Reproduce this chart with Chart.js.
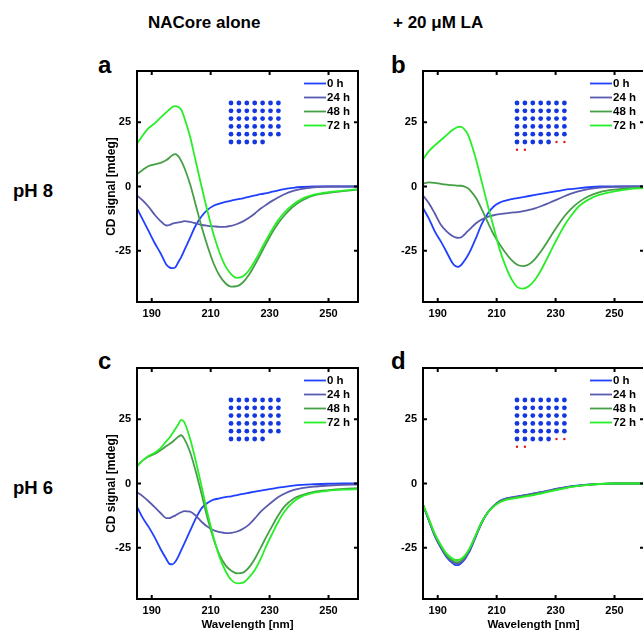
<!DOCTYPE html>
<html>
<head>
<meta charset="utf-8">
<script src="https://cdn.jsdelivr.net/npm/chart.js@4.4.0/dist/chart.umd.min.js"></script>
<style>
body{margin:0;width:643px;height:632px;overflow:hidden;background:#fff;position:relative;font-family:"Liberation Sans",Arial,sans-serif}
.t{position:absolute;white-space:nowrap;font-weight:bold;color:#000;line-height:1}
canvas{position:absolute}
</style>
</head>
<body>
<div class="t" style="left:148px;top:14px;font-size:17px">NACore alone</div>
<div class="t" style="left:393px;top:14px;font-size:17px">+ 20 μM LA</div>
<div class="t" style="left:13px;top:182px;font-size:18.5px">pH 8</div>
<div class="t" style="left:13px;top:479px;font-size:18.5px">pH 6</div>
<div class="t" style="left:98px;top:53px;font-size:24px">a</div>
<div class="t" style="left:391px;top:53px;font-size:24px">b</div>
<div class="t" style="left:98px;top:349px;font-size:24px">c</div>
<div class="t" style="left:391px;top:349px;font-size:24px">d</div>

<canvas id="ca" width="330" height="275" style="left:40px;top:55px"></canvas>
<canvas id="cb" width="330" height="275" style="left:326px;top:55px"></canvas>
<canvas id="cc" width="330" height="280" style="left:40px;top:352px"></canvas>
<canvas id="cd" width="330" height="280" style="left:326px;top:352px"></canvas>

<script>
// wavelengths in nm
var wavelength = [185,187,189,191,193,195,196,197,198,199,200,201,203,205,207,209,211,213,215,217,219,221,223,225,227,229,231,233,235,238,241,245,250,255,260]
var xTicks = [190,210,230,250]
var yTicks = [-25,0,25]
var timeLabels = ['0 h','24 h','48 h','72 h']
var lineColors = ['#2040ff','#5a5aae','#45a045','#28ee28']

// a: NACore alone, pH 8
var a0h  = [-8.5,-13,-17.5,-22,-26,-30.5,-31.5,-31.8,-31.5,-29.5,-27.5,-25,-20,-15,-11.5,-9,-7.5,-6.7,-6,-5.5,-5,-4.6,-4,-3.5,-3,-2.6,-2,-1.5,-1,-0.5,-0.2,0,0,0,0]
var a24h = [-3.5,-5.5,-8,-11,-13.5,-15.2,-15,-14.5,-14.2,-14,-13.8,-13.5,-13.8,-14.4,-15,-15.3,-15.5,-15.7,-15.7,-15.3,-14.6,-13.6,-12.2,-10.5,-8.6,-7,-5.5,-4.2,-3,-1.7,-0.9,-0.3,0,0,0]
var a48h = [4.8,6.5,8,8.6,9.2,10.3,11.2,12.2,12.6,11.8,10,7.5,1,-7.5,-16,-23.5,-30,-34.7,-37.7,-39,-38.8,-37.3,-34.4,-30.5,-26.2,-21.8,-17.7,-14.2,-11.3,-7.8,-5.4,-3.5,-2.5,-1.8,-1.2]
var a72h = [16.7,20,22.8,24.6,26.8,29,30,31,31.3,31,29.9,27,19.5,9.5,-0.5,-10,-18.7,-25.7,-31,-34.2,-35.6,-35,-32.6,-29,-24.8,-20.5,-16.5,-13,-10.2,-7,-4.8,-3.2,-2.2,-1.6,-1]

// b: + 20 uM LA, pH 8
var b0h  = [-8.4,-12.5,-17.5,-21.3,-25.5,-29.8,-31,-31.3,-30.5,-29,-27.3,-25.2,-20,-14.5,-10.5,-7.8,-6.3,-5.5,-4.9,-4.5,-4.1,-3.7,-3.3,-2.9,-2.5,-2.1,-1.7,-1.3,-1,-0.6,-0.3,0,0,0,0]
var b24h = [-3.5,-6.5,-10.5,-14.8,-17.5,-19.3,-19.8,-20,-19.8,-18.8,-17.6,-16.5,-14.3,-12.8,-11.8,-11.2,-10.8,-10.5,-10.2,-10,-9.6,-9.1,-8.5,-7.7,-6.8,-5.8,-4.8,-3.8,-2.9,-1.8,-1,-0.4,-0.1,0,0]
var b48h = [1.2,1.6,1.4,1,0.7,0.5,0.4,0.3,0.3,0,-0.5,-1.5,-4.5,-9,-14,-18.7,-22.5,-25.8,-28.6,-30.5,-31,-30.3,-28.3,-25.3,-21.9,-18.2,-14.8,-11.6,-9,-6,-3.9,-2.2,-1.2,-0.7,-0.5]
var b72h = [10.6,13.8,16,18,20,22,22.7,23.2,23.2,22.3,20.8,18,10.5,1.5,-7.5,-16,-24.5,-30.9,-36,-39.2,-39.8,-38.8,-36.3,-32.7,-28.3,-23.7,-19.3,-15.2,-11.8,-7.6,-5.2,-3.2,-1.9,-1,-0.6]

// c: NACore alone, pH 6
var c0h  = [-9,-13.5,-17,-21,-25.5,-29.5,-31.3,-31.5,-30.5,-28.5,-26,-23.5,-18.5,-13.5,-9.5,-7.5,-6.3,-5.8,-5.3,-5,-4.5,-4,-3.6,-3.2,-2.8,-2.4,-2,-1.6,-1.3,-0.8,-0.5,-0.3,-0.1,0,0]
var c24h = [-3.4,-5,-7,-9.2,-11.5,-13.5,-13.5,-13,-12.5,-11.8,-11.2,-10.8,-11,-12.6,-15,-16.9,-18.2,-18.9,-19.3,-19.2,-18.7,-17.6,-16,-13.6,-11,-8.9,-7,-5.3,-4,-2.6,-1.8,-1.2,-0.8,-0.5,-0.4]
var c48h = [6.9,9,10.5,11.5,13,14.6,15.4,16.2,17.2,18.2,18.8,17.5,12.3,4.5,-4.5,-13.8,-21.6,-27.8,-31.8,-34,-35,-34.7,-32.7,-29.3,-25,-20.5,-16.3,-12.3,-9,-6,-4.5,-3.3,-2.6,-2.1,-1.8]
var c72h = [6.6,9,10.8,12,13.8,16.5,17.8,19.5,21.2,23,24.8,24,17.5,8.5,-1.5,-12,-21,-28.6,-34,-37.6,-38.9,-38.6,-36.6,-33.7,-29.3,-24,-19.3,-14.8,-11,-7.2,-5,-3.6,-2.8,-2.4,-2.2]

// d: + 20 uM LA, pH 6
var d0h  = [-8.3,-14.5,-20.5,-25,-28.7,-31,-31.8,-31.8,-31,-29.8,-28,-26,-20.5,-15.2,-11.3,-8.7,-6.8,-5.9,-5.4,-5,-4.6,-4.2,-3.8,-3.4,-2.9,-2.4,-1.9,-1.5,-1.1,-0.7,-0.4,-0.2,0,0,0]
var d24h = [-8.3,-14.3,-20.2,-24.7,-28.3,-30.5,-31.2,-31.2,-30.5,-29.3,-27.6,-25.6,-20.2,-15,-11.2,-8.7,-6.9,-6,-5.5,-5.1,-4.7,-4.3,-3.9,-3.5,-3,-2.5,-2,-1.6,-1.2,-0.8,-0.4,-0.2,0,0,0]
var d48h = [-8.3,-14.2,-20,-24.4,-28,-30,-30.6,-30.6,-30,-28.9,-27.2,-25.2,-20,-14.9,-11.2,-8.8,-7.1,-6.2,-5.7,-5.3,-4.9,-4.5,-4.1,-3.7,-3.2,-2.7,-2.2,-1.8,-1.3,-0.9,-0.5,-0.2,0,0,0]
var d72h = [-8,-13.8,-19.5,-23.8,-27.3,-29.2,-29.8,-29.8,-29.3,-28.3,-26.8,-24.8,-19.8,-14.8,-11.3,-9,-7.4,-6.5,-6,-5.6,-5.2,-4.8,-4.4,-3.9,-3.4,-2.9,-2.4,-1.9,-1.4,-0.9,-0.5,-0.2,0,0,0]

// peptide pictogram: blue dots and red dots per panel
var dotsBlue = [40,40,40,40]
var dotsRed  = [0,4,0,4]

Chart.defaults.font.family = '"Liberation Sans", Arial, sans-serif'
Chart.defaults.font.weight = 'bold'
Chart.defaults.color = '#000'

// box round the plot with inward ticks
var framePlugin = {
    id:'frame',
    afterDatasetsDraw(chart){
        var ctx = chart.ctx, a = chart.chartArea
        var x = chart.scales.x, y = chart.scales.y
        ctx.save()
        ctx.strokeStyle = '#000'
        ctx.lineWidth = 2
        ctx.strokeRect(a.left, a.top, a.right-a.left, a.bottom-a.top)
        ctx.beginPath()
        xTicks.forEach(function(v){
            var px = x.getPixelForValue(v)
            ctx.moveTo(px, a.bottom); ctx.lineTo(px, a.bottom-4)
            ctx.moveTo(px, a.top); ctx.lineTo(px, a.top+4)
        })
        yTicks.forEach(function(v){
            var py = y.getPixelForValue(v)
            ctx.moveTo(a.left, py); ctx.lineTo(a.left+4, py)
            ctx.moveTo(a.right, py); ctx.lineTo(a.right-4, py)
        })
        ctx.stroke()
        ctx.restore()
    }
}

// legend and dot grid inside the plot
var insetPlugin = {
    id:'inset',
    afterDraw(chart, args, opts){
        var ctx = chart.ctx, a = chart.chartArea
        ctx.save()
        chart.data.datasets.forEach(function(ds, i){
            var yy = a.top + 12.5 + i*14
            ctx.strokeStyle = ds.borderColor
            ctx.lineWidth = 1.8
            ctx.beginPath()
            ctx.moveTo(a.right-54, yy); ctx.lineTo(a.right-32, yy)
            ctx.stroke()
            ctx.fillStyle = '#000'
            ctx.font = 'bold 11.5px "Liberation Sans", Arial, sans-serif'
            ctx.textBaseline = 'middle'
            ctx.textAlign = 'left'
            ctx.fillText(ds.label, a.right-31, yy+0.5)
        })
        var n = opts.blue + opts.red
        for(var k = 0; k < n; k++){
            var col = k % 7, row = Math.floor(k/7)
            var cx = a.left + 94 + col*7.9
            var cy = a.top + 32 + row*7.8
            ctx.beginPath()
            if(k < opts.blue){
                ctx.fillStyle = '#1438e0'
                ctx.arc(cx, cy, 2.4, 0, Math.PI*2)
            }else{
                ctx.fillStyle = '#e01818'
                ctx.arc(cx, cy, 1.2, 0, Math.PI*2)
            }
            ctx.fill()
        }
        ctx.restore()
    }
}

function makeChart(id, series, idx, showYTitle, showXTitle){
    var datasets = series.map(function(s, i){
        return {
            label: timeLabels[i],
            data: wavelength.map(function(w, j){ return {x:w, y:s[j]} }),
            borderColor: lineColors[i],
            borderWidth: 1.8,
            pointRadius: 0,
            cubicInterpolationMode: 'monotone',
            order: 3-i
        }
    })
    return new Chart(document.getElementById(id), {
        type:'line',
        plugins:[framePlugin, insetPlugin],
        data:{ datasets: datasets },
        options:{
            responsive:false,
            animation:false,
            layout:{ padding:{ top:16, right:12, left:0, bottom:0 } },
            plugins:{
                legend:{ display:false },
                tooltip:{ enabled:false },
                inset:{ blue: dotsBlue[idx], red: dotsRed[idx] }
            },
            scales:{
                x:{
                    type:'linear',
                    min:185, max:260,
                    grid:{ display:false, drawTicks:false },
                    border:{ display:false },
                    afterBuildTicks: function(s){ s.ticks = xTicks.map(function(v){ return {value:v} }) },
                    afterFit: function(s){ s.height = showXTitle ? 33 : 28 },
                    ticks:{ padding:5, font:{ size:11, weight:'bold' }, maxRotation:0 },
                    title:{ display: showXTitle, text:'Wavelength [nm]', font:{ size:11.5, weight:'bold' }, padding:{ top:0, bottom:0 } }
                },
                y:{
                    min:-45, max:45,
                    grid:{ display:false, drawTicks:false },
                    border:{ display:false },
                    afterBuildTicks: function(s){ s.ticks = yTicks.map(function(v){ return {value:v} }) },
                    afterFit: function(s){ s.width = 97 },
                    ticks:{ padding:6, font:{ size:11, weight:'bold' } },
                    title:{ display: showYTitle, text:'CD signal [mdeg]', font:{ size:12, weight:'bold' }, padding:{ top:64, bottom:0 } }
                }
            }
        }
    })
}

var chartA = makeChart('ca', [a0h,a24h,a48h,a72h], 0, true, false)
var chartB = makeChart('cb', [b0h,b24h,b48h,b72h], 1, false, false)
var chartC = makeChart('cc', [c0h,c24h,c48h,c72h], 2, true, true)
var chartD = makeChart('cd', [d0h,d24h,d48h,d72h], 3, false, true)
</script>
</body>
</html>
